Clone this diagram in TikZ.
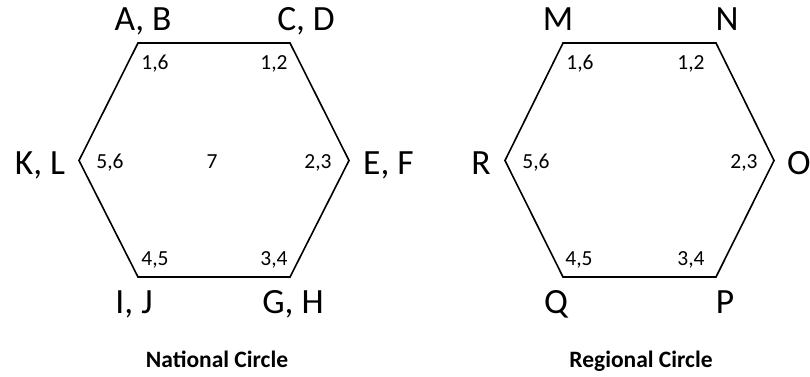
\documentclass[tikz,border=0pt]{standalone}
\usepackage{fontspec}
\setmainfont{Carlito}
\begin{document}
\begin{tikzpicture}[x=1pt,y=-1pt,
  big/.style={anchor=base,inner sep=0pt,font=\fontsize{35.5}{38}\selectfont},
  small/.style={anchor=base,inner sep=0pt,font=\fontsize{21.5}{24}\selectfont},
  caption/.style={anchor=base,inner sep=0pt,font=\bfseries\fontsize{23.5}{26}\selectfont},
  hex/.style={draw=black,line width=1.6pt,line join=miter}]
\useasboundingbox (0,0) rectangle (810,376);
% National circle
\coordinate (n1) at (138,43);
\coordinate (n2) at (290,43);
\coordinate (n3) at (349,160.5);
\coordinate (n4) at (290,277);
\coordinate (n5) at (138,277);
\coordinate (n6) at (79,160.5);
\draw[hex] (n1) -- (n2) -- (n3) -- (n4) -- (n5) -- (n6) -- cycle;
\node[big] (ab) at (143,30) {A, B};
\node[big] (cd) at (306,30) {C, D};
\node[big] (kl) at (40,174) {K, L};
\node[big,anchor=base west] (ef) at (363,174) {E, F};
\node[big] (ij) at (134,313) {I, J};
\node[big] (gh) at (293,313) {G, H};
\node[small] (n16) at (155,69) {1,6};
\node[small] (n12) at (274,69) {1,2};
\node[small] (n56) at (110,168) {5,6};
\node[small] (n7) at (212,168) {7};
\node[small] (n23) at (318,168) {2,3};
\node[small] (n45) at (155,265) {4,5};
\node[small] (n34) at (274,265) {3,4};
\node[caption] (nat) at (217,367) {National Circle};
% Regional circle
\coordinate (r1) at (563,43);
\coordinate (r2) at (716,43);
\coordinate (r3) at (774,160.5);
\coordinate (r4) at (716,277);
\coordinate (r5) at (563,277);
\coordinate (r6) at (505,160.5);
\draw[hex] (r1) -- (r2) -- (r3) -- (r4) -- (r5) -- (r6) -- cycle;
\node[big] (m) at (558,30) {M};
\node[big] (nn) at (727,30) {N};
\node[big] (r) at (481,174) {R};
\node[big,anchor=base west] (o) at (787,174) {O};
\node[big] (q) at (556,313) {Q};
\node[big] (p) at (725,313) {P};
\node[small] (r16) at (580,69) {1,6};
\node[small] (r12) at (691,69) {1,2};
\node[small] (r56) at (536,168) {5,6};
\node[small] (r23) at (744,168) {2,3};
\node[small] (r45) at (579,265) {4,5};
\node[small] (r34) at (691,265) {3,4};
\node[caption] (reg) at (641,367) {Regional Circle};
\end{tikzpicture}
\end{document}
